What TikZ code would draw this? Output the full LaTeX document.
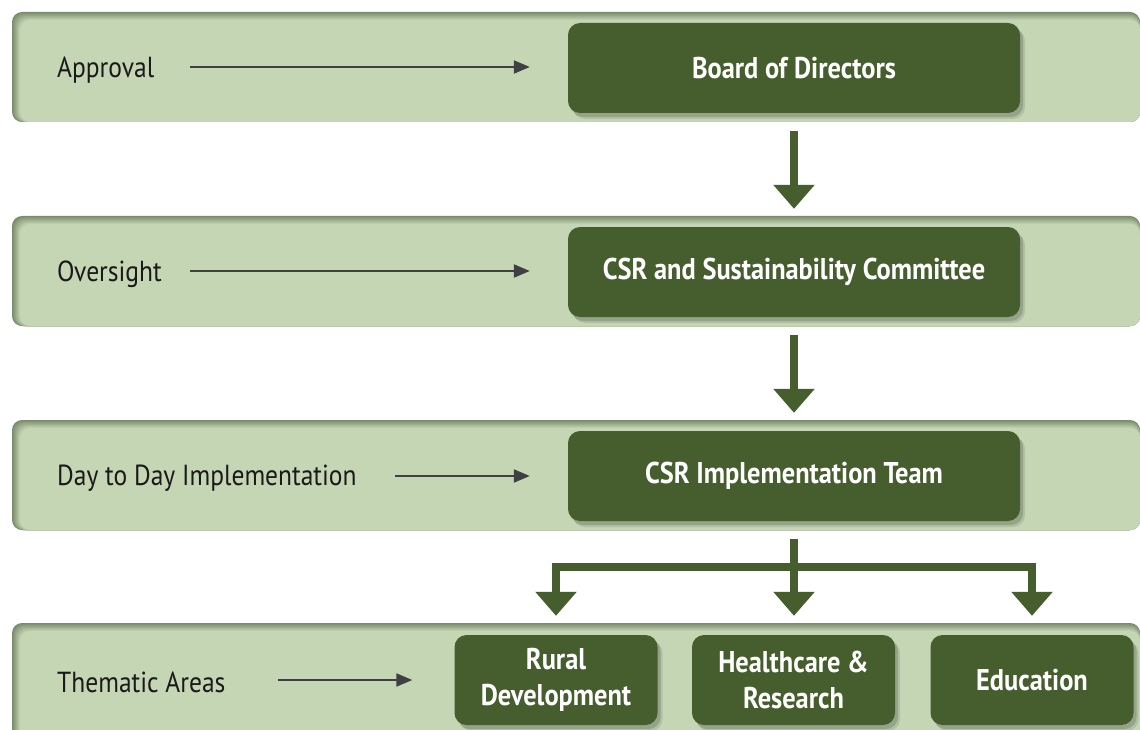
\documentclass[tikz,border=0pt]{standalone}
\usepackage{fontspec}
\setmainfont{PT Sans}[FakeStretch=0.88]
\usetikzlibrary{arrows.meta,calc}
\definecolor{bandlight}{HTML}{C5D6B5}
\definecolor{banddark}{HTML}{7A8A6C}
\definecolor{boxgreen}{HTML}{465E2E}
\definecolor{arrowgray}{HTML}{3F4044}
\definecolor{labeltext}{HTML}{1A1A1A}
\tikzset{
  box/.style={fill=boxgreen, rounded corners=12pt, text=white, inner sep=0pt,
    align=center, font=\bfseries\fontsize{30}{36}\selectfont,
    preaction={fill=black, opacity=.10, transform canvas={xshift=5pt,yshift=-6pt}},
    preaction={fill=black, opacity=.15, transform canvas={xshift=3pt,yshift=-4pt}}},
  wide/.style={box, minimum width=452pt, minimum height=90pt},
  small/.style={box, minimum width=203pt, minimum height=90pt},
  lab/.style={anchor=west, inner sep=0pt, text=labeltext, font=\fontsize{29}{32}\selectfont},
  labarrow/.style={draw=arrowgray, line width=2.2pt, -{Triangle[length=16pt,width=13pt]}},
  bigarrow/.style={draw=boxgreen, line width=8pt, line join=miter,
    -{Triangle[length=24pt,width=40pt]}},
}
\newcommand{\bandshape}[2]{%
  \fill[banddark, rounded corners=10pt] (12,#1) rectangle (1140,#2);
  \foreach \i in {1,...,9}{%
    \pgfmathsetmacro{\p}{\i*11.1}%
    \fill[bandlight!\p!banddark, rounded corners=10pt] (12+\i*0.9,#1+\i*0.9) rectangle (1140,#2);
  }%
}
\begin{document}
\begin{tikzpicture}[x=1pt,y=-1pt]
\useasboundingbox (0,0) rectangle (1140,730);
\clip (0,0) rectangle (1140,730);
\fill[white] (0,0) rectangle (1140,730);
% bands
\bandshape{12}{122}
\bandshape{216}{326}
\bandshape{420}{530}
\bandshape{623}{745}
% boxes
\node[wide] (board) at (794,68) {Board of Directors};
\node[wide] (comm) at (794,272) {CSR and Sustainability Committee};
\node[wide] (team) at (794,476) {CSR Implementation Team};
\node[small] (rural) at (556,680) {Rural\\Development};
\node[small] (health) at (793.5,680) {Healthcare \&\\Research};
\node[small] (edu) at (1032,680) {Education};
% labels
\node[lab] (approval) at (57,70) {Approval};
\node[lab] (oversight) at (57,274) {Oversight};
\node[lab] (daytoday) at (57,478) {Day to Day Implementation};
\node[lab] (thematic) at (57,682) {Thematic Areas};
% label arrows
\coordinate (s1) at (190,67);
\coordinate (s2) at (190,271);
\coordinate (s3) at (395,476);
\coordinate (s4) at (278,680);
\draw[labarrow, shorten >=38pt] (s1) -- (s1 -| board.west);
\draw[labarrow, shorten >=38pt] (s2) -- (s2 -| comm.west);
\draw[labarrow, shorten >=38pt] (s3) -- (s3 -| team.west);
\draw[labarrow, shorten >=42pt] (s4) -- (s4 -| rural.west);
% vertical arrows
\draw[bigarrow, shorten <=18pt, shorten >=18pt] (board.south) -- (comm.north);
\draw[bigarrow, shorten <=18pt, shorten >=18pt] (comm.south) -- (team.north);
\draw[bigarrow, shorten <=18pt, shorten >=19pt] (team.south) -- (team.south |- health.north);
\coordinate (split) at (794,567);
\draw[bigarrow, shorten >=19pt] (split) -| (rural.north);
\draw[bigarrow, shorten >=19pt] (split) -| (edu.north);
\end{tikzpicture}
\end{document}
